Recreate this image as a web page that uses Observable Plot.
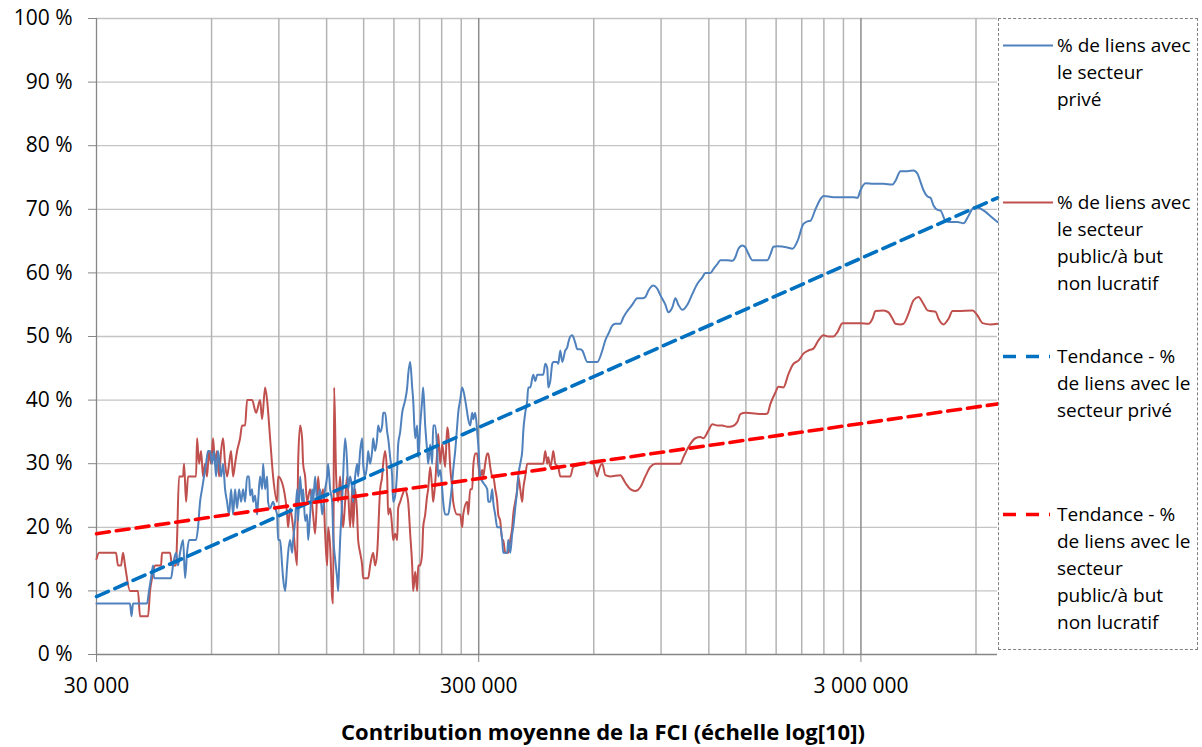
<!DOCTYPE html>
<html>
<head>
<meta charset="utf-8">
<script src="https://cdn.jsdelivr.net/npm/d3@7"></script>
<script src="https://cdn.jsdelivr.net/npm/@observablehq/plot@0.6"></script>
<style>
  html, body { margin: 0; padding: 0; background: #fff; }
  #wrap { position: relative; width: 1202px; height: 747px; overflow: hidden; }
  #chart { position: absolute; left: 0; top: 0; }
  #legend { position: absolute; left: 998px; top: 18px; width: 200px; height: 632px;
            border: 1px dashed #808080; box-sizing: border-box; }
  .item { position: absolute; left: 0; width: 200px; }
  .item svg { position: absolute; left: 4px; }
  .item .txt { position: absolute; left: 58px; font-family: "Open Sans", sans-serif; font-size: 19px;
               line-height: 27px; color: #000; white-space: nowrap; }
  #xtitle { position: absolute; left: 0; width: 1206px; top: 717px; text-align: center;
            font-family: "Open Sans", sans-serif; font-weight: bold; font-size: 22px; line-height: 29px; color: #000; }
</style>
</head>
<body>
<div id="wrap">
  <div id="chart"></div>
  <div id="legend"></div>
  <div id="xtitle">Contribution moyenne de la FCI (échelle log[10])</div>
</div>
<script>
// ---- Data: % de liens avec le secteur privé ----
const priveX = [30000,34570,36710,37040,37380,40670,41160,41670,42180,42430,47000,47570,48440,49030,49630,50540,51150,51770,52400,53350,54650,55310,55980,56660,57350,58040,58750,59460,60180,60910,61650,62400,63540,64310,65090,65880,66680,67490,68300,69130,69970,70820,71680,72550,73430,74320,75220,75670,76590,77050,77990,78930,79410,80380,81360,81850,82840,83840,84350,85370,86930,87980,89050,89590,90680,91780,92330,93460,94590,95160,96310,97480,98070,99260,100460,101070,102290,103530,104160,105420,106700,107350,108650,109970,110630,111980,113330,115400,116800,118930,120370,121100,122570,124060,124810,126320,127850,128630,129410,130180,131760,132560,134160,135790,136610,138270,139950,140790,142500,144230,145100,146860,148640,149540,151360,153190,154120,155990,157880,158840,160760,162710,163700,165680,167690,168700,170750,172820,173870,175970,178100,179180,181360,183560,184670,186910,189180,192630,194970,196150,198520,200930,202140,204600,207080,208330,210850,213410,214700,217300,219940,221270,223950,226670,228040,230800,233600,235020,237870,240760,242210,245150,249630,252650,255710,257260,260380,263540,265140,268350,271610,276560,279920,281610,285020,288480,290220,293740,297310,299110,302730,308250,315780,317690,321540,325440,327410,331380,335400,341520,345660,347750,356240,358400,362740,367140,369360,373840,378380,380670,385280,389950,392310,397070,401890,404320,409220,416690,421750,426860,434650,442580,447950,453390,456130,461650,467250,470080,481550,484470,490340,496290,505350,511480,514570,520810,527130,536750,543260,553170,559880,577020,598260,612870,631620,643150,654890,670860,683110,704000,716850,734350,756870,780040,803830,818510,833450,859000,879970,896000,923430,940280,963240,980830,998730,1023060,1054380,1086620,1119880,1154130,1175200,1211200,1233300,1263410,1286400,1341860,1382970,1408230,1433930,1468900,1495720,1523020,1560200,1637200,1707780,1739000,1770740,1813970,1926620,1985600,2046370,2121730,2173530,2213200,2280950,2350700,2393600,2542370,2700300,2868110,2938130,2991700,3083280,3235590,3436590,3628280,3694530,3807500,3971640,4117900,4218440,4295400,4373790,4480580,4562300,4645560,4758980,4845800,4994130,5146900,5368780,5566470,5736860,5876830,5984130,6167200,6355980,6550400,6830000];
const priveY = [8,8,8,6,8,8,10,12,14,12,12,14,16,14,16,18,12,16,18,18,18,20,24,26,28,30,32,32,30,32,28,32,28,30,26,24,22,26,22,26,23,26,24,26,24,28,28,25,26,24,25,22,24,28,26,30,26,28,24,23,24,23,22,18,18,14,12,10,14,16,18,16,18,21,26,21,28,24,26,21,22,18,22,26,24,28,24,26,22,26,28,30,26,24,19,15,12,10,14,18,24,28,34,30,26,28,26,24,28,30,28,32,34,30,28,30,32,30,32,34,32,34,36,35,36,38,38,35,34,31,28,24,25,29,33,35,38,40,42,44,46,42,40,34,36,31,36,40,42,36,32,30,33,30,36,36,32,28,29,26,24,22,22,24,27,29,32,36,38,40,42,40,38,37,36,38,37,38,35,33,28,27,26,24,24,26,24,22,20,20,18,16,16,18,16,19,20,23,26,28,30,32,35,38,40,42,42,44,43,44,44,44,45.7,45,42,43,45.7,46,46,45.7,47.8,46,47.8,48.3,49,50,50.2,49,48,48,47.8,46,46,46,47.8,49.4,50.4,51.7,52,52,53,54,55,56,56,56.2,57.2,58,57.5,56.5,55,53.8,54.6,56,55,54.2,55,56.7,58.3,59.3,60,60,60.6,61.4,62,62,61.9,62.5,63.8,64.3,64,63,62,62,62,62.9,64.1,64.2,64,63.8,65,67.7,68.1,68.2,70,71.6,72.1,71.9,71.9,71.9,71.8,73,74.1,74,74,73.9,74.5,76,76,76.1,75.6,74.3,73,72,71.8,70.6,69.9,69.8,68.2,68,68,67.8,69,70.1,70.4,70.1,69.6,68.9,68];

// ---- Data: % de liens avec le secteur public/à but non lucratif ----
const publicX = [30000,30460,33740,34150,34780,35200,35630,36710,38520,38990,40920,41420,41920,42690,44260,44520,46720,47290,48440,48730,49330,50540,50840,51460,52080,54650,54980,55650,56320,57000,57690,58390,59100,59820,60550,61280,62020,62780,63540,64310,65090,65880,66680,67490,68300,69130,69970,71250,72110,73430,74320,76590,78460,80380,81360,82840,83840,85370,86930,89050,89590,91780,94590,95160,96310,98070,100460,101070,102290,103530,104160,105420,106700,108650,110630,111980,114020,115400,117510,118930,120370,121100,122570,124060,124810,125560,127090,128630,130180,131760,132560,134160,135790,138270,139950,140790,142500,144230,145100,146860,148640,149540,154120,155990,158840,160760,162710,165680,167690,168700,170750,172820,173870,175970,178100,179180,181360,183560,184670,186910,189180,192630,194970,196150,198520,200930,202140,204600,207080,208330,210850,213410,214700,217300,219940,221270,223950,226670,228040,230800,233600,235020,237870,240760,242210,245150,248120,249630,252650,255710,257260,263540,268350,271610,273250,279920,281610,285020,288480,290220,293740,297310,299110,302730,306400,308250,311990,315780,317690,321540,325440,327410,331380,335400,337430,341520,345660,347750,351970,358400,362740,367140,369360,373840,378380,380670,385280,389950,392310,397070,401890,409220,434650,442580,447950,453390,456130,461650,467250,470080,475780,484470,490340,520810,530310,543260,563270,587540,598260,612870,616580,631620,643150,662820,704000,725550,747800,770690,794200,818510,843600,869420,896000,1010800,1029250,1060750,1106460,1140300,1161110,1196650,1225890,1263410,1302000,1341860,1382970,1425310,1451300,1495720,1667080,1707780,1739000,1792230,1824940,1880710,1938280,1997600,2058750,2121730,2186680,2253590,2322580,2393600,2466870,2542370,2604440,2684070,2816700,2991700,3139550,3216140,3274870,3436590,3541790,3628280,3694530,3807500,3876990,3995670,4117900,4243960,4373790,4480580,4562300,4701950,4787770,4934240,5085280,5209330,5368780,5876830,6056710,6242010,6550400,6830000];
const publicY = [15,16,16,14,14,16,14,10,10,6,6,10,12,14,14,16,16,14,14,18,28,28,30,24,28,28,34,30,32,28,30,28,32,30,34,30,32,28,32,34,30,28,30,32,28,30,32,34,36,36,40,40,38,40,37,42,40,34,28,24,28,27,22,20,23,20,14,30,36,34,30,28,24,26,22,19,28,24,26,19,14,20,17,9,8,42,28,24,28,22,20,24,28,20,26,20,26,22,18,16,14,12,12,14,16,14,16,26,28,30,32,28,22,23,20,18,19,18,23,24,25,26,25,24,19,14,10,13,10,14,14,16,20,22,25,26,29.5,26,24,27,32,34.7,30,33,32,29.5,35.7,35,29.5,26,24,22,22,20,22,24,22,26,26,29.5,31.6,31.6,30,28,29,28,30,31.6,31.6,29.5,28,28,26,24,22,21,18,18,16,16,18,20,22,24,26,28,26,24,26,28,30,30,30,30,32,30,31,29.5,31,32,30,29.5,28,28,29.5,29.7,30,30.2,30,28,28.7,30,28.2,28,28.2,27,26,25.7,26.3,28,29.5,30,30,30,31,32.6,34,34.2,34,35.2,36.2,36,36,35.8,35.9,36.6,37.8,38,37.8,37.9,39.4,41.2,42.1,42,44.1,45.7,46.2,47.3,47.8,48.1,49.4,50.2,50,50,50.7,52.1,52.1,52.1,52,52.8,54,54.1,53.8,52.8,52,51.9,52,53.6,55.7,56.2,55.1,54.1,54,53.9,52.8,51.9,52.8,54,54,54.1,53.3,52.1,51.9,52];

// ---- Trend lines (logarithmic trend: straight on the log axis) ----
const trendX = [30000, 6830000];
const trendPriveY = [9.1, 71.8];
const trendPublicY = [19.0, 39.4];

// ---- Axes ----
const xMajorTicks = [30000, 300000, 3000000];
const xTickLabels = ["30 000", "300 000", "3 000 000"];
const xMinorGrid = [60000, 90000, 120000, 150000, 180000, 210000, 240000, 270000,
                    600000, 900000, 1200000, 1500000, 1800000, 2100000, 2400000, 2700000, 6000000];
const yTicks = [0, 10, 20, 30, 40, 50, 60, 70, 80, 90, 100];
const xDomain = [30000, 6830000];

const seriesNames = ["% de liens avec le secteur privé",
                     "% de liens avec le secteur public/à but non lucratif",
                     "Tendance - % de liens avec le secteur privé",
                     "Tendance - % de liens avec le secteur public/à but non lucratif"];
const legendLines = [["% de liens avec", "le secteur", "privé"],
                     ["% de liens avec", "le secteur", "public/à but", "non lucratif"],
                     ["Tendance - %", "de liens avec le", "secteur privé"],
                     ["Tendance - %", "de liens avec le", "secteur", "public/à but", "non lucratif"]];
const colors = ["#4F81BD", "#C0504D", "#0070C0", "#FF0000"];

// ---- Build tables ----
const prive = priveX.map((x, i) => ({x, y: priveY[i]}));
const pub = publicX.map((x, i) => ({x, y: publicY[i]}));
const trendPrive = trendX.map((x, i) => ({x, y: trendPriveY[i]}));
const trendPub = trendX.map((x, i) => ({x, y: trendPublicY[i]}));

const chart = Plot.plot({
  width: 1202,
  height: 747,
  marginLeft: 96,
  marginRight: 205,
  marginTop: 18,
  marginBottom: 93,
  x: {type: "log", domain: xDomain},
  y: {domain: [0, 100]},
  style: {fontFamily: "'Open Sans', sans-serif", fontSize: "21px", color: "#000", background: "transparent"},
  marks: [
    Plot.gridY(yTicks.filter(d => d > 0), {stroke: "#c4c4c4", strokeOpacity: 1, strokeWidth: 1.3}),
    Plot.ruleX(xMinorGrid, {stroke: "#b4b4b4", strokeWidth: 1.5}),
    Plot.ruleX(xMajorTicks.slice(1), {stroke: "#8c8c8c", strokeWidth: 1.5}),
    Plot.axisY({ticks: yTicks, tickFormat: d => `${d} %`, tickSize: 8, tickPadding: 16,
                stroke: "#868686", fontSize: 21, label: null}),
    Plot.axisX({ticks: xMajorTicks, tickFormat: d => xTickLabels[xMajorTicks.indexOf(d)],
                tickSize: 8, tickPadding: 16, stroke: "#868686", fontSize: 21, label: null}),
    Plot.ruleX([xDomain[0]], {stroke: "#868686", strokeWidth: 1.3}),
    Plot.ruleY([0], {stroke: "#868686", strokeWidth: 1.3}),
    Plot.line(pub, {x: "x", y: "y", stroke: colors[1], strokeWidth: 2, curve: "monotone-x"}),
    Plot.line(prive, {x: "x", y: "y", stroke: colors[0], strokeWidth: 2, curve: "monotone-x"}),
    Plot.line(trendPrive, {x: "x", y: "y", stroke: colors[2], strokeWidth: 3.6, strokeDasharray: "13,7"}),
    Plot.line(trendPub, {x: "x", y: "y", stroke: colors[3], strokeWidth: 3.6, strokeDasharray: "13,7"})
  ]
});
document.getElementById("chart").appendChild(chart);

// ---- Legend ----
const legend = document.getElementById("legend");
const legendCenters = [26, 183, 337, 495]; // first-line centers relative to legend box top
legendLines.forEach((lines, i) => {
  const item = document.createElement("div");
  item.className = "item";
  item.style.top = (legendCenters[i] - 13.5) + "px";
  item.title = seriesNames[i];
  const dashed = i >= 2;
  const svg = `<svg width="50" height="27" style="top:0">` +
    `<line x1="0" x2="${dashed ? 47 : 50}" y1="13.5" y2="13.5" stroke="${colors[i]}" ` +
    `stroke-width="${dashed ? 3.6 : 2}" ${dashed ? 'stroke-dasharray="13,10"' : ''}/></svg>`;
  item.innerHTML = svg + `<div class="txt">${lines.join("<br>")}</div>`;
  legend.appendChild(item);
});
</script>
</body>
</html>
